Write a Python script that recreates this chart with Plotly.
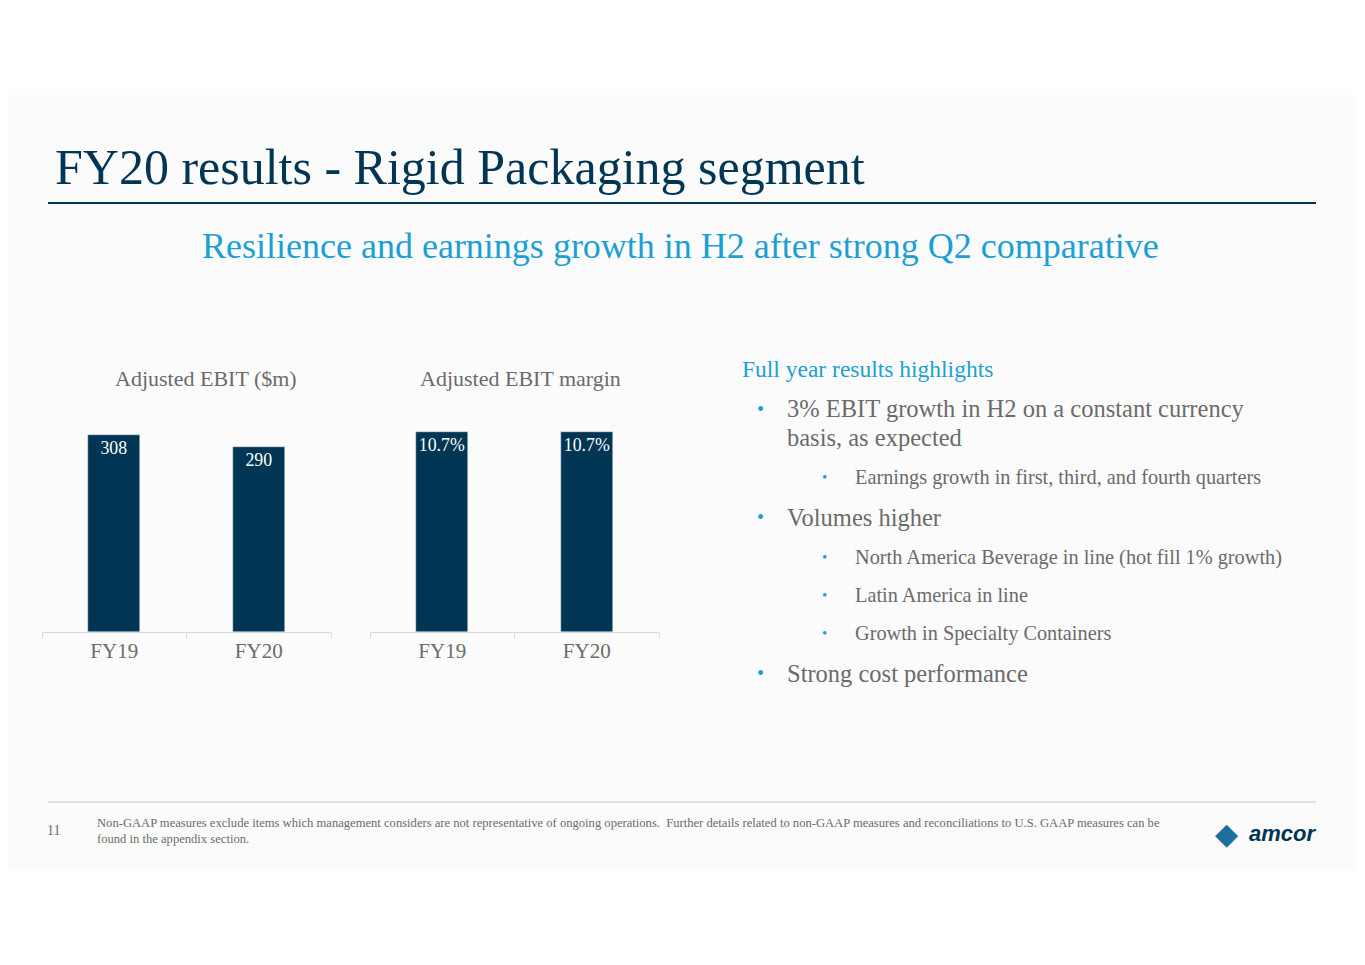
import plotly.graph_objects as go

years = ["FY19", "FY20"]
ebit = [308, 290]
margin = [10.7, 10.7]
margin_labels = ["10.7%", "10.7%"]
W, H = 1365, 965
NAVY = "#003554"
BLUE = "#1a9fd6"
GREY = "#6b6b6b"
F = "Liberation Serif"
OFF = 8  # page body offset

def px(x): return (x - OFF) / W
def py(y): return 1 - (y - OFF) / H

fig = go.Figure()
for vals, labels, xa, ya in [(ebit, [str(v) for v in ebit], "x", "y"), (margin, margin_labels, "x2", "y2")]:
    fig.add_trace(go.Bar(x=years, y=vals, text=labels, marker_color=NAVY, width=0.36,
                         textposition="inside", insidetextanchor="end", textangle=0,
                         textfont=dict(color="white", size=20, family=F), xaxis=xa, yaxis=ya,
                         cliponaxis=False))

ax = dict(showgrid=False, showline=True, linecolor="#d9d9d9", ticks="outside", tickson="boundaries",
          ticklen=5, tickcolor="#d9d9d9", tickfont=dict(family=F, size=21, color=GREY), fixedrange=True)
ay = dict(visible=False, showgrid=False, zeroline=False, fixedrange=True)
fig.update_layout(
    width=W, height=H, margin=dict(l=0, r=0, t=0, b=0), showlegend=False,
    paper_bgcolor="white", plot_bgcolor="rgba(0,0,0,0)", bargap=0,
    uniformtext=dict(mode="show", minsize=10),
    xaxis=dict(domain=[px(42), px(331)], anchor="y", **ax),
    xaxis2=dict(domain=[px(370), px(659)], anchor="y2", **ax),
    yaxis=dict(domain=[py(632), py(421)], range=[0, 330], **ay),
    yaxis2=dict(domain=[py(632), py(421)], range=[0, 11.29], **ay),
)

shapes = [
    dict(type="rect", xref="paper", yref="paper", x0=0, x1=1, y0=py(870), y1=py(95),
         fillcolor="#fbfbfb", line=dict(width=0), layer="below"),
    dict(type="line", xref="paper", yref="paper", x0=px(48), x1=px(1316), y0=py(203), y1=py(203),
         line=dict(color=NAVY, width=2)),
    dict(type="line", xref="paper", yref="paper", x0=px(48), x1=px(1316), y0=py(802), y1=py(802),
         line=dict(color="#d9d9d9", width=1.5)),
]
fig.update_layout(shapes=shapes)

def ann(x, y, text, size, color, anchor="left", fam=F):
    return dict(x=px(x), y=py(y), xref="paper", yref="paper", text=text, showarrow=False,
                xanchor=anchor, yanchor="middle", font=dict(family=fam, size=size, color=color), align="left")

anns = [
    ann(53, 167, "FY20 results - Rigid Packaging segment", 50, NAVY),
    ann(680, 246, "Resilience and earnings growth in H2 after strong Q2 comparative", 36, BLUE, "center"),
    ann(206, 378, "Adjusted EBIT ($m)", 22, GREY, "center"),
    ann(520, 378, "Adjusted EBIT margin", 22, GREY, "center"),
    ann(740, 369, "Full year results highlights", 23.5, BLUE),
    ann(755, 409, "•", 20, BLUE), ann(785, 409, "3% EBIT growth in H2 on a constant currency", 24.5, GREY),
    ann(785, 437, "basis, as expected", 24.5, GREY),
    ann(820, 477, "•", 15, BLUE), ann(853, 477, "Earnings growth in first, third, and fourth quarters", 20.3, GREY),
    ann(755, 517, "•", 20, BLUE), ann(785, 517, "Volumes higher", 24.5, GREY),
    ann(820, 557, "•", 15, BLUE), ann(853, 557, "North America Beverage in line (hot fill 1% growth)", 20.3, GREY),
    ann(820, 595, "•", 15, BLUE), ann(853, 595, "Latin America in line", 20.3, GREY),
    ann(820, 633, "•", 15, BLUE), ann(853, 633, "Growth in Specialty Containers", 20.3, GREY),
    ann(755, 673, "•", 20, BLUE), ann(785, 673, "Strong cost performance", 24.5, GREY),
    ann(45, 830, "11", 14, GREY),
    ann(95, 831, "Non-GAAP measures exclude items which management considers are not representative of ongoing operations.  Further details related to non-GAAP measures and reconciliations to U.S. GAAP measures can be<br>found in the appendix section.", 12.6, GREY),
    ann(1247, 833, "<b><i>amcor</i></b>", 22, NAVY, fam="Liberation Sans"),
    ann(1226, 833, "◆", 30, "#1b6f9e", "center", fam="DejaVu Sans"),
]
fig.update_layout(annotations=anns)
fig.write_html("out.html")
